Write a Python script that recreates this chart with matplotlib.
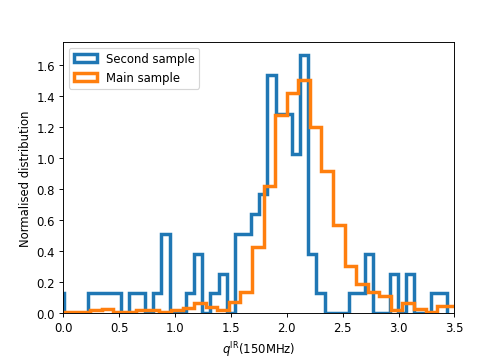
import numpy as np
import matplotlib
matplotlib.use('Agg')
import matplotlib.pyplot as plt

# Second sample: counts in 50 equal bins (density normalised when drawn)
second_lo, second_hi = -0.215, 3.432
second_counts = [1, 0, 1, 0, 0, 0, 1, 1, 1, 1,
                 0, 1, 1, 0, 1, 4, 0, 0, 1, 3,
                 0, 1, 2, 0, 4, 4, 5, 6, 12, 10,
                 10, 8, 13, 3, 1, 0, 0, 0, 1, 1,
                 3, 0, 0, 2, 0, 2, 0, 0, 1, 1]

# Main sample: normalised values, 35 bins
main_lo, main_hi = -0.0705, 3.552
main_density = [0.01, 0.01, 0.01, 0.02, 0.03, 0.01, 0.01, 0.02, 0.02, 0.01,
                0.02, 0.035, 0.065, 0.043, 0.02, 0.074, 0.135, 0.43, 0.82, 1.28,
                1.42, 1.50, 1.20, 0.92, 0.57, 0.305, 0.19, 0.14, 0.113, 0.02,
                0.065, 0.03, 0.01, 0.05, 0.05]

second_edges = np.linspace(second_lo, second_hi, len(second_counts) + 1)
main_edges = np.linspace(main_lo, main_hi, len(main_density) + 1)

fig = plt.figure(figsize=(6.06, 4.32), dpi=83.33)
fig.subplots_adjust(left=0.125, right=0.9, bottom=0.127, top=0.881)
ax = fig.add_subplot(111)

ax.hist(second_edges[:-1], bins=second_edges, weights=second_counts, density=True,
        histtype='step', linewidth=3, label='Second sample')
ax.hist(main_edges[:-1], bins=main_edges, weights=main_density,
        histtype='step', linewidth=3, label='Main sample')

ax.set_xlim(0, 3.5)
ax.set_xlabel(r'$q^{\rm IR}$(150MHz)')
ax.set_ylabel('Normalised distribution')
ax.legend(loc='upper left')

fig.savefig('out.png', dpi=83.33)
